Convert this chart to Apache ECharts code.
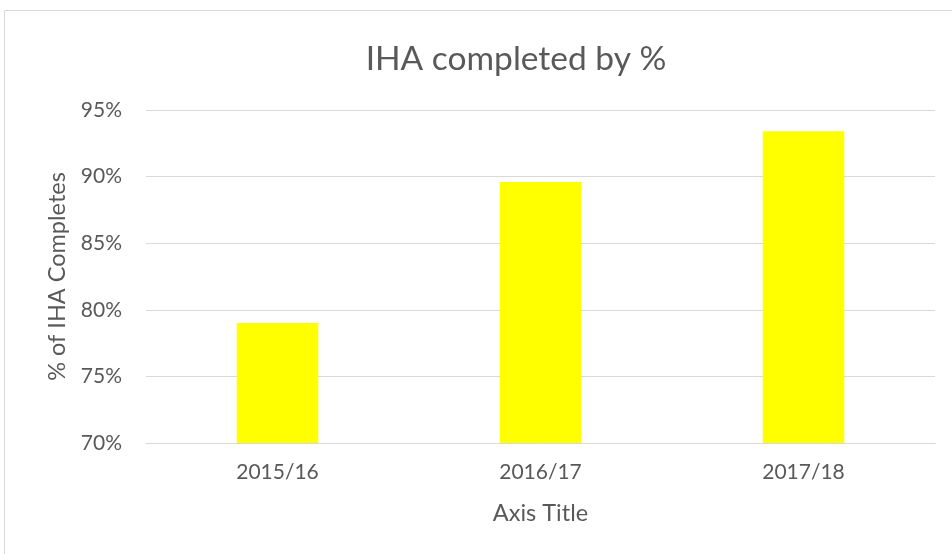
<!DOCTYPE html>
<html>
<head>
<meta charset="utf-8">
<title>IHA completed by %</title>
<script src="https://cdn.jsdelivr.net/npm/echarts@6/dist/echarts.min.js"></script>
<style>
  html, body { margin: 0; padding: 0; background: #fff; }
  #chart { width: 952px; height: 554px; }
</style>
</head>
<body>
<div id="chart"></div>
<script>
// data
const years = ["2015/16", "2016/17", "2017/18"];
const completedPct = [79.0, 89.6, 93.4];
const yTicks = { min: 70, max: 95, step: 5 };

const labelColor = "#595959";
const lineColor = "#d9d9d9";
const fontName = "Lato, 'Open Sans', sans-serif";

const chart = echarts.init(document.getElementById("chart"));

chart.setOption({
  animation: false,
  // thin outer frame like the spreadsheet chart area
  graphic: [{
    type: "rect",
    shape: { x: 4.5, y: 10.5, width: 1000, height: 1000 },
    style: { fill: "none", stroke: lineColor, lineWidth: 1 },
    silent: true
  }],
  title: {
    text: "IHA completed by %",
    left: 516,
    top: 42,
    padding: 0,
    textAlign: "center",
    textStyle: { color: labelColor, fontFamily: fontName, fontSize: 33.5, fontWeight: "normal" }
  },
  grid: { left: 146, right: 17, top: 110, bottom: 111 },
  xAxis: {
    type: "category",
    data: years,
    name: "Axis Title",
    nameLocation: "middle",
    nameGap: 58,
    nameTextStyle: { color: labelColor, fontFamily: fontName, fontSize: 23.5 },
    axisLine: { lineStyle: { color: lineColor } },
    axisTick: { show: false },
    axisLabel: { color: labelColor, fontFamily: fontName, fontSize: 21, margin: 19 }
  },
  yAxis: {
    type: "value",
    min: yTicks.min,
    max: yTicks.max,
    interval: yTicks.step,
    name: "% of IHA Completes",
    nameLocation: "middle",
    nameGap: 74,
    nameTextStyle: { color: labelColor, fontFamily: fontName, fontSize: 23.5 },
    axisLine: { show: false },
    axisTick: { show: false },
    axisLabel: { color: labelColor, fontFamily: fontName, fontSize: 21, margin: 24, formatter: "{value}%" },
    splitLine: { lineStyle: { color: lineColor } }
  },
  series: [{
    type: "bar",
    data: completedPct,
    barWidth: "31%",
    itemStyle: { color: "#ffff00" }
  }]
});
</script>
</body>
</html>
